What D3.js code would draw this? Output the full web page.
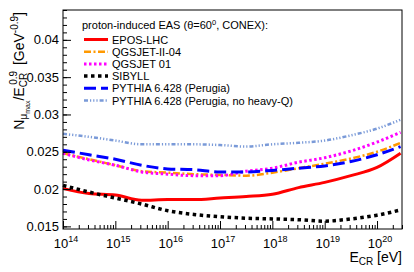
<!DOCTYPE html>
<html>
<head>
<meta charset="utf-8">
<script src="https://cdn.jsdelivr.net/npm/d3@7"></script>
<style>
  body { margin: 0; background: #fff; }
  svg { font-family: "Liberation Sans", Arial, sans-serif; }
</style>
</head>
<body>
<svg id="chart" width="414" height="272"></svg>
<script>
// log10(E_CR / eV) sample points
const lgE = [14, 14.5, 15, 15.5, 16, 16.5, 17, 17.5, 18, 18.5, 19, 19.5, 20, 20.45];

const eposLHC = [0.0201, 0.0194, 0.0192, 0.0185, 0.0186, 0.0186, 0.0188, 0.0190, 0.0193, 0.0202, 0.0209, 0.0218, 0.0229, 0.0248];
const qgsjetII04 = [0.0248, 0.0240, 0.0232, 0.0224, 0.0222, 0.0220, 0.0219, 0.0218, 0.0222, 0.0228, 0.0234, 0.0241, 0.0250, 0.0262];
const qgsjet01 = [0.0248, 0.0239, 0.0232, 0.0223, 0.0220, 0.0218, 0.0218, 0.0224, 0.0228, 0.0236, 0.0242, 0.0251, 0.0263, 0.0276];
const sibyll = [0.0205, 0.0196, 0.0188, 0.0180, 0.0171, 0.0166, 0.0163, 0.0161, 0.0160, 0.0159, 0.0157, 0.0160, 0.0165, 0.0172];
const pythiaPerugia = [0.0252, 0.0246, 0.0240, 0.0232, 0.0227, 0.0226, 0.0223, 0.0223, 0.0225, 0.0228, 0.0231, 0.0237, 0.0246, 0.0257];
const pythiaNoHQ = [0.0274, 0.0270, 0.0265, 0.0260, 0.0260, 0.0260, 0.0259, 0.0257, 0.0260, 0.0262, 0.0265, 0.0272, 0.0281, 0.0293];

const yTickValues = [0.015, 0.02, 0.025, 0.03, 0.035, 0.04];
const yTickLabels = ["0.015", "0.02", "0.025", "0.03", "0.035", "0.04"];
const xDecades = [14, 15, 16, 17, 18, 19, 20];

const legendHeader = "proton-induced EAS (\u03b8=60";
const series = [
  { name: "EPOS-LHC", values: eposLHC, color: "#ff0000", width: 3, dash: null },
  { name: "QGSJET-II-04", values: qgsjetII04, color: "#ff9900", width: 2.5, dash: "7,2.5,2,2.5" },
  { name: "QGSJET 01", values: qgsjet01, color: "#ff00ff", width: 3, dash: "2.5,2.5" },
  { name: "SIBYLL", values: sibyll, color: "#000000", width: 3.5, dash: "3.5,3.5" },
  { name: "PYTHIA 6.428 (Perugia)", values: pythiaPerugia, color: "#0000ff", width: 3, dash: "12,5" },
  { name: "PYTHIA 6.428 (Perugia, no heavy-Q)", values: pythiaNoHQ, color: "#7a9ad8", width: 2.5, dash: "4,2,1.2,2,1.2,2,1.2,2" }
];

const svg = d3.select("#chart");
const margin = { top: 10, right: 12, bottom: 43, left: 63 };
const width = 414, height = 272;

const x = d3.scaleLog()
  .domain([1e14, 3e20])
  .range([margin.left, width - margin.right]);

const y = d3.scaleLinear()
  .domain([0.01465, 0.044])
  .range([height - margin.bottom, margin.top]);

// curves (drawn first so the frame sits on top)
const line = d3.line()
  .x((d, i) => x(Math.pow(10, lgE[i])))
  .y(d => y(d))
  .curve(d3.curveMonotoneX);

const plot = svg.append("g");
series.forEach(s => {
  plot.append("path")
    .datum(s.values)
    .attr("fill", "none")
    .attr("stroke", s.color)
    .attr("stroke-width", s.width)
    .attr("stroke-dasharray", s.dash)
    .attr("d", line);
});

// frame
svg.append("rect")
  .attr("x", margin.left)
  .attr("y", margin.top)
  .attr("width", width - margin.left - margin.right)
  .attr("height", height - margin.top - margin.bottom)
  .attr("fill", "none")
  .attr("stroke", "#000")
  .attr("stroke-width", 1);

// y ticks (inside)
const yMinor = d3.range(0.015, 0.0441, 0.001).filter(v => v >= 0.01465 && v <= 0.044);
svg.append("g")
  .attr("transform", `translate(${margin.left},0)`)
  .call(d3.axisLeft(y).tickValues(yMinor).tickSize(-4).tickFormat(""))
  .call(g => g.select(".domain").remove());
svg.append("g")
  .attr("transform", `translate(${margin.left},0)`)
  .call(d3.axisLeft(y).tickValues(yTickValues).tickSize(-8).tickFormat(""))
  .call(g => g.select(".domain").remove());

svg.append("g")
  .selectAll("text")
  .data(yTickValues)
  .join("text")
  .attr("x", margin.left - 4)
  .attr("y", d => y(d) + 4.5)
  .attr("text-anchor", "end")
  .attr("font-size", 13)
  .text((d, i) => yTickLabels[i]);

// x ticks (inside, log)
const xMinor = [];
xDecades.forEach(p => {
  for (let m = 2; m <= 9; m++) {
    const v = m * Math.pow(10, p);
    if (v <= 3e20) xMinor.push(v);
  }
});
const yBase = height - margin.bottom;
svg.append("g")
  .attr("transform", `translate(0,${yBase})`)
  .call(d3.axisBottom(x).tickValues(xMinor).tickSize(-4).tickFormat(""))
  .call(g => g.select(".domain").remove());
svg.append("g")
  .attr("transform", `translate(0,${yBase})`)
  .call(d3.axisBottom(x).tickValues(xDecades.map(p => Math.pow(10, p))).tickSize(-8).tickFormat(""))
  .call(g => g.select(".domain").remove());

const xl = svg.append("g")
  .selectAll("text")
  .data(xDecades)
  .join("text")
  .attr("x", d => x(Math.pow(10, d)) + 3)
  .attr("y", yBase + 19)
  .attr("text-anchor", "middle")
  .attr("font-size", 13);
xl.append("tspan").text("10");
xl.append("tspan").attr("font-size", 9).attr("dy", -6).text(d => d);

// x title
const xt = svg.append("text")
  .attr("x", width - margin.right)
  .attr("y", 262)
  .attr("text-anchor", "end")
  .attr("font-size", 14);
xt.append("tspan").text("E");
xt.append("tspan").attr("font-size", 10).attr("dy", 3).text("CR");
xt.append("tspan").attr("dy", -3).text("  [eV]");

// y title
const yt = svg.append("text")
  .attr("transform", `translate(24,${margin.top + 2}) rotate(-90)`)
  .attr("text-anchor", "end")
  .attr("font-size", 14);
yt.append("tspan").text("N");
yt.append("tspan").attr("font-size", 10).attr("dy", 3).text("\u03bc");
yt.append("tspan").attr("font-size", 7).attr("dy", 3).text("max");
yt.append("tspan").attr("dy", -6).text("/E");
yt.append("tspan").attr("font-size", 10).attr("dy", 3).text("CR");
yt.append("tspan").attr("font-size", 10).attr("dx", -12).attr("dy", -10).text("0.9");
yt.append("tspan").attr("dx", 2).attr("dy", 7).text(" [GeV");
yt.append("tspan").attr("font-size", 10).attr("dy", -6).text("-0.9");
yt.append("tspan").attr("dy", 6).text("]");

// legend
const lg = svg.append("g");
const hdr = lg.append("text")
  .attr("x", 82)
  .attr("y", 29)
  .attr("font-size", 11);
hdr.append("tspan").text(legendHeader);
hdr.append("tspan").attr("font-size", 7.5).attr("dy", -4).text("0");
hdr.append("tspan").attr("dy", 4).text(", CONEX):");

series.forEach((s, i) => {
  const ly = 39.5 + i * 12.2;
  lg.append("line")
    .attr("x1", 84).attr("x2", 108)
    .attr("y1", ly).attr("y2", ly)
    .attr("stroke", s.color)
    .attr("stroke-width", s.width)
    .attr("stroke-dasharray", s.dash);
  lg.append("text")
    .attr("x", 112)
    .attr("y", ly + 4)
    .attr("font-size", 11)
    .text(s.name);
});
</script>
</body>
</html>
